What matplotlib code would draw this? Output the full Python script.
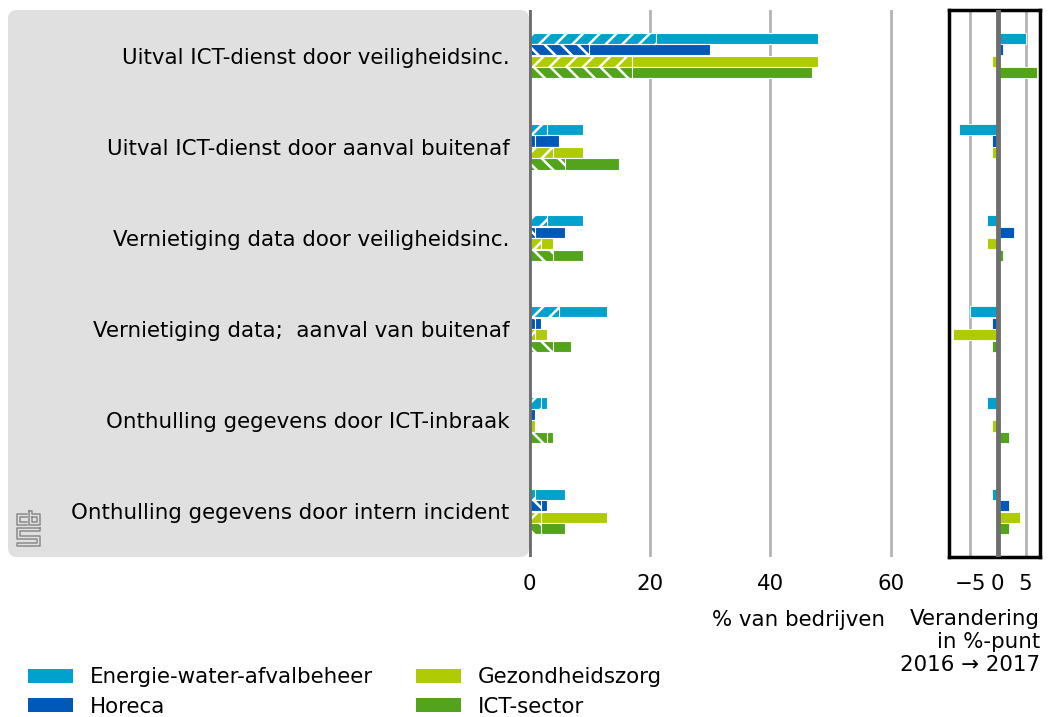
"""
Beveiligingsincidenten per sector: % van bedrijven (2017) plus verandering t.o.v. 2016.
"""

import matplotlib
matplotlib.use("Agg")
import matplotlib.pyplot as plt
import numpy as np
from matplotlib.patches import FancyBboxPatch, Patch
from matplotlib.lines import Line2D

categories = [
    "Uitval ICT-dienst door veiligheidsinc.",
    "Uitval ICT-dienst door aanval buitenaf",
    "Vernietiging data door veiligheidsinc.",
    "Vernietiging data;  aanval van buitenaf",
    "Onthulling gegevens door ICT-inbraak",
    "Onthulling gegevens door intern incident",
]
sectors = ["Energie-water-afvalbeheer", "Horeca", "Gezondheidszorg", "ICT-sector"]
colors = ["#00a1cd", "#0058b8", "#afcb05", "#53a31d"]
hatches = ["//", "\\\\", "//", "\\\\"]

# % van bedrijven (totaal)
energie = [48, 9, 9, 13, 3, 6]
horeca = [30, 5, 6, 2, 1, 3]
gezond = [48, 9, 4, 3, 1, 13]
ict = [47, 15, 9, 7, 4, 6]
# gearceerd deel
energie_h = [21, 3, 3, 5, 2, 1]
horeca_h = [10, 1, 1, 1, 0, 2]
gezond_h = [17, 4, 2, 1, 0, 2]
ict_h = [17, 6, 4, 4, 3, 2]
# verandering 2016 -> 2017 (%-punt)
energie_d = [5, -7, -2, -5, -2, -1]
horeca_d = [1, -1, 3, -1, 0, 2]
gezond_d = [-1, -1, -2, -8, -1, 4]
ict_d = [7, 0, 1, -1, 2, 2]

totals = [energie, horeca, gezond, ict]
hatched = [energie_h, horeca_h, gezond_h, ict_h]
deltas = [energie_d, horeca_d, gezond_d, ict_d]

W, H = 1053, 717
FS = 15.4


def px(x, y):
    # pixel position (top-left origin) -> inches for fig.dpi_scale_trans
    return x / 100, (H - y) / 100


def draw_logo(fig):
    segs = [
        # c
        [(27, 514), (17, 514), (17, 525), (27, 525)],
        [(27, 517), (20, 517), (20, 522), (27, 522)],
        # b
        [(29, 511), (29, 525), (40, 525), (40, 514), (32, 514), (32, 511), (29, 511)],
        [(32, 517), (37, 517), (37, 522), (32, 522), (32, 517)],
        # s
        [(40, 528), (17, 528), (17, 539), (37, 539), (37, 543), (17, 543), (17, 546), (40, 546),
         (40, 536), (20, 536), (20, 531), (40, 531), (40, 528)],
    ]
    for s in segs:
        xs, ys = zip(*[px(a, b) for a, b in s])
        fig.add_artist(Line2D(xs, ys, transform=fig.dpi_scale_trans, color="#8a8a8a", lw=1.1))


def main():
    plt.rcParams["font.family"] = "DejaVu Sans"
    plt.rcParams["hatch.linewidth"] = 1.8
    fig = plt.figure(figsize=(W / 100, H / 100), dpi=100)

    top, bottom = 10, 557
    ax = fig.add_axes([529 / W, (H - bottom) / H, (921 - 529) / W, (bottom - top) / H])
    ax2 = fig.add_axes([949 / W, (H - bottom) / H, (1040 - 949) / W, (bottom - top) / H])

    # grey label panel
    x0, y0 = px(8, bottom)
    panel = FancyBboxPatch((x0, y0), (529 - 8) / 100, (bottom - top) / 100,
                           boxstyle="round,pad=0,rounding_size=0.09",
                           transform=fig.dpi_scale_trans, facecolor="#e0e0e0",
                           edgecolor="none", zorder=-1)
    fig.add_artist(panel)
    draw_logo(fig)

    y = np.arange(len(categories))
    h = 0.122
    step = 0.126
    offsets = (np.arange(4) - 1.5) * step

    for i in range(4):
        yy = y + offsets[i]
        ax.barh(yy, totals[i], height=h, color=colors[i], edgecolor="white", lw=0.8, zorder=2)
        ax.barh(yy, hatched[i], height=h, color=colors[i], edgecolor="white", lw=0.8,
                hatch=hatches[i], zorder=3)
        ax2.barh(yy, deltas[i], height=h, color=colors[i], edgecolor="white", lw=0.6, zorder=2)

    for g in [20, 40, 60]:
        ax.axvline(g, color="#b4b4b4", lw=2, zorder=0)
    ax.axvline(0, color="#6e6e6e", lw=3.5, zorder=5)
    ax.set_xlim(0, 65)
    ax.set_ylim(5.5, -0.5)
    ax.set_xticks([0, 20, 40, 60])
    ax.set_yticks(y)
    ax.set_yticklabels(categories)
    ax.tick_params(axis="y", length=0, pad=14, labelsize=FS)
    ax.tick_params(axis="x", length=0, pad=12, labelsize=FS)
    for sp in ax.spines.values():
        sp.set_visible(False)

    for g in [-5, 5]:
        ax2.axvline(g, color="#b4b4b4", lw=2, zorder=0)
    ax2.axvline(0, color="#6e6e6e", lw=3.5, zorder=5)
    ax2.set_xlim(-8.8, 7.6)
    ax2.set_ylim(5.5, -0.5)
    ax2.set_xticks([-5, 0, 5])
    ax2.set_yticks([])
    ax2.tick_params(axis="x", length=0, pad=12, labelsize=FS)
    for sp in ax2.spines.values():
        sp.set_linewidth(2.5)
        sp.set_color("black")

    tx, ty = px(885, 620)
    fig.text(tx, ty, "% van bedrijven", transform=fig.dpi_scale_trans,
             ha="right", va="center", fontsize=FS)
    tx, ty = px(1040, 609)
    fig.text(tx, ty, "Verandering\nin %-punt\n2016 \u2192 2017", transform=fig.dpi_scale_trans,
             ha="right", va="top", fontsize=FS, multialignment="right", linespacing=1.2)

    handles = [Patch(facecolor=c, edgecolor="none") for c in colors]
    lx, ly = px(28, 717)
    fig.legend(handles, sectors, loc="lower left",
               bbox_to_anchor=(lx, ly), bbox_transform=fig.dpi_scale_trans,
               ncol=2, frameon=False, fontsize=FS, handlelength=2.1, handleheight=0.63,
               handletextpad=0.77, columnspacing=2.05, labelspacing=0.45,
               borderpad=0, borderaxespad=0)

    fig.savefig("out.png", dpi=100)
    plt.close(fig)


if __name__ == "__main__":
    main()
